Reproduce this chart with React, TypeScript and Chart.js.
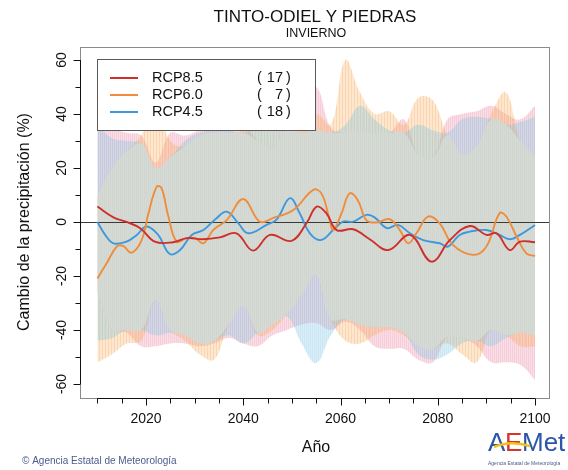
import { useEffect, useRef } from 'react';
import { Chart, registerables } from 'chart.js';

Chart.register(...registerables);

// ---------- data ----------
const chartTitle = 'TINTO-ODIEL Y PIEDRAS';
const chartSubtitle = 'INVIERNO';
const yAxisTitle = 'Cambio de la precipitación (%)';
const xAxisTitle = 'Año';
const footerText = 'Agencia Estatal de Meteorología';

const seriesNames = ['RCP8.5', 'RCP6.0', 'RCP4.5'];
const seriesCounts = [17, 7, 18];

const xTickLabels = [2020, 2040, 2060, 2080, 2100];
const yTickLabels = [-60, -40, -20, 0, 20, 40, 60];

const rcp85Years = [2010, 2013.3, 2016, 2018.8, 2021.8, 2025.6, 2028.4, 2031.7, 2035.2, 2038.6, 2042, 2045.5, 2049.9, 2053, 2055.1, 2057.1, 2059.2, 2062.6, 2066, 2069.8, 2074.3, 2078.7, 2082.5, 2086.6, 2090, 2092.1, 2094.8, 2096.9, 2100];
const rcp85Values = [5.7, 1.7, 0, -2.3, -7.3, -7.5, -6, -6.4, -5.7, -4.2, -10.6, -4.8, -7, -0.5, 5.7, 3.2, -3, -2.7, -6.4, -10.4, -4.8, -14.7, -6.7, -1.5, -4.8, -4.2, -10.4, -7.3, -7.5];

const rcp60Years = [2010, 2011.9, 2014, 2015.3, 2017, 2019.1, 2020.5, 2022.2, 2023.2, 2024.6, 2026.3, 2028.4, 2030.1, 2031.8, 2033.8, 2036.6, 2040, 2043.4, 2046.2, 2050.3, 2054.4, 2056.1, 2057.6, 2058.5, 2060.2, 2061.9, 2063.6, 2065.3, 2067.4, 2070.1, 2072.2, 2073.9, 2075.6, 2078, 2080.4, 2083.1, 2087.3, 2090, 2092.7, 2094.1, 2096.2, 2098.2, 2100];
const rcp60Values = [-20.9, -15.3, -9.1, -8.9, -11.4, -6.7, 3.2, 13.1, 12.5, 2, -7.3, -6, -6, -7.9, -3, 0.7, 8.5, 0.1, 1.5, 4.4, 11.9, 10.5, 2, -3, 3.2, 10.6, 7.9, 0.7, -0.2, 1, -3, -7.9, -4.2, 2, -0.5, -8.5, -12.2, -9.1, 3.2, 2, -5.4, -11.6, -12.6];

const rcp45Years = [2010, 2011.6, 2013.3, 2016, 2018.1, 2020.1, 2022.5, 2024.9, 2027, 2029.4, 2031.8, 2034.5, 2036.6, 2039, 2041, 2044.8, 2046.9, 2049.6, 2051.6, 2053.7, 2056, 2058.5, 2060.5, 2062.6, 2065.3, 2067, 2069.5, 2071.8, 2074.3, 2077, 2080.4, 2082.1, 2084.5, 2086.6, 2090, 2092.7, 2094.8, 2096.9, 2100];
const rcp45Values = [0, -4.8, -7.9, -7.3, -4.8, -1.7, -4.8, -11.9, -10.4, -4.8, -3, 1.4, 3.8, -0.5, -4.2, -1.1, 1, 8.8, 3.2, -4.2, -6.7, -3, 0.1, 0.1, 2.6, 1.7, -2.3, -1.1, -4.2, -6.7, -7.9, -9.1, -4.8, -3.6, -3, -4.8, -6.4, -4.8, -1.1];

// spread bands (common year grid)
const bandYears = [2010, 2013, 2016, 2019, 2022, 2025, 2028, 2031, 2034, 2037, 2040, 2043, 2046, 2049, 2052, 2055, 2058, 2061, 2064, 2067, 2070, 2073, 2076, 2079, 2082, 2085, 2088, 2091, 2094, 2097, 2100];
const rcp85Upper = [38, 35, 33, 32, 22, 33, 32, 34, 35, 35, 36, 30, 27, 35, 45, 50, 35, 33, 34, 33, 33, 38, 25, 24, 38, 40, 41, 43, 40, 38, 43];
const rcp85Lower = [-26, -40, -41, -46, -46, -45, -45, -46, -45, -43, -45, -46, -42, -40, -38, -37.5, -40, -37, -40, -46, -47, -47, -51, -52, -42.5, -43, -46, -52, -52, -53, -58.5];
const rcp60Upper = [10, 20, 26, 32, 42, 30, 28, 32, 33, 33, 34, 37, 38, 36, 35, 40, 36, 60, 48, 40, 41, 36, 46, 45, 32, 25, 28, 40, 48, 30, 24];
const rcp60Lower = [-52, -49, -45, -44, -29, -40, -44, -49, -51, -38, -31, -42, -40, -34, -27, -19.6, -36, -44, -45, -42, -40, -42, -46, -47, -45, -49, -52, -40, -42, -46, -46];
const rcp45Upper = [36, 31, 30, 29, 20, 24, 30, 33, 34, 34, 33, 36, 37, 34, 33, 34, 33, 36, 43, 38, 34, 33, 36, 34, 33, 38, 39, 38, 36, 37, 39];
const rcp45Lower = [-44, -43, -40, -40, -42, -41, -42, -45, -44, -42, -45, -41, -38, -35, -45, -52.3, -42, -36, -38, -39, -39, -41, -49, -51, -49, -45, -44, -46, -43, -41, -42];

// ---------- styles ----------
const lineColors = ['#cf2f2a', '#ef8d3c', '#3f98dc'];
const bandRgb: [number, number, number][] = [
  [235, 140, 165],
  [248, 172, 92],
  [130, 198, 225],
];
const bandAlpha = 0.36;
const overlapRgb: [number, number, number] = [211, 217, 210];
const FONT = '"Liberation Sans", Arial, Helvetica, sans-serif';

const pts = (xs: number[], ys: number[]) => xs.map((x, i) => ({ x, y: ys[i] }));

function hatch(rgb: [number, number, number], alpha: number, period: number, strong: number, weak: number) {
  const c = document.createElement('canvas');
  c.width = period;
  c.height = 1;
  const g = c.getContext('2d')!;
  g.fillStyle = `rgba(${rgb[0]},${rgb[1]},${rgb[2]},${Math.min(1, alpha * strong)})`;
  g.fillRect(0, 0, 1, 1);
  g.fillStyle = `rgba(${rgb[0]},${rgb[1]},${rgb[2]},${alpha * weak})`;
  g.fillRect(1, 0, period - 1, 1);
  return g.createPattern(c, 'repeat') as CanvasPattern;
}

export default function App() {
  const ref = useRef<HTMLCanvasElement>(null);

  useEffect(() => {
    const canvas = ref.current;
    if (!canvas) return;

    const overlapUpper = bandYears.map((_, i) => Math.min(rcp85Upper[i], rcp60Upper[i], rcp45Upper[i]));
    const overlapLower = bandYears.map((_, i) => Math.max(rcp85Lower[i], rcp60Lower[i], rcp45Lower[i]));

    const bandFills = [
      hatch(bandRgb[0], bandAlpha, 2, 1.2, 0.8),
      hatch(bandRgb[1], bandAlpha, 3, 1.4, 0.8),
      hatch(bandRgb[2], bandAlpha, 2, 1.15, 0.85),
    ];
    const overlapFill = (() => {
      const c = document.createElement('canvas');
      c.width = 2;
      c.height = 1;
      const g = c.getContext('2d')!;
      g.fillStyle = `rgb(${overlapRgb[0] - 2},${overlapRgb[1] - 2},${overlapRgb[2] - 2})`;
      g.fillRect(0, 0, 1, 1);
      g.fillStyle = `rgb(${overlapRgb[0] + 2},${overlapRgb[1] + 2},${overlapRgb[2] + 2})`;
      g.fillRect(1, 0, 1, 1);
      return g.createPattern(c, 'repeat') as CanvasPattern;
    })();

    const band = (ys: number[], fill: any, color: any) => ({
      data: pts(bandYears, ys),
      borderWidth: 0,
      borderColor: 'rgba(0,0,0,0)',
      backgroundColor: color,
      pointRadius: 0,
      tension: 0.4,
      fill,
    });
    const line = (xs: number[], ys: number[], color: string) => ({
      data: pts(xs, ys),
      borderColor: color,
      borderWidth: 1.9,
      pointRadius: 0,
      tension: 0.4,
      fill: false,
    });

    const decor = {
      id: 'decor',
      beforeDatasetsDraw(chart: any) {
        const { ctx, chartArea: a, scales } = chart;
        const y0 = Math.round(scales.y.getPixelForValue(0)) + 0.5;
        ctx.save();
        ctx.strokeStyle = '#3a3a3a';
        ctx.lineWidth = 1;
        ctx.beginPath();
        ctx.moveTo(a.left, y0);
        ctx.lineTo(a.right, y0);
        ctx.stroke();
        ctx.restore();
      },
      afterDraw(chart: any) {
        const { ctx, chartArea: a, scales } = chart;
        const xs = scales.x;
        const ys = scales.y;
        ctx.save();

        // frame
        ctx.strokeStyle = '#8a8a8a';
        ctx.lineWidth = 1;
        ctx.strokeRect(a.left + 0.5, a.top + 0.5, a.right - a.left - 1, a.bottom - a.top);

        // axes
        ctx.strokeStyle = '#111';
        const axX = Math.round(a.left) + 0.5;
        const axY = Math.round(a.bottom) + 0.5;
        ctx.beginPath();
        ctx.moveTo(axX, ys.getPixelForValue(60));
        ctx.lineTo(axX, ys.getPixelForValue(-60));
        ctx.moveTo(xs.getPixelForValue(2010), axY);
        ctx.lineTo(xs.getPixelForValue(2100), axY);
        for (let v = -60; v <= 60; v += 10) {
          const p = Math.round(ys.getPixelForValue(v)) + 0.5;
          const len = v % 20 === 0 ? 7 : 5;
          ctx.moveTo(axX, p);
          ctx.lineTo(axX - len, p);
        }
        for (let yr = 2010; yr <= 2100; yr += 5) {
          const p = Math.round(xs.getPixelForValue(yr)) + 0.5;
          const len = (yr - 2000) % 20 === 0 ? 7 : 5;
          ctx.moveTo(p, axY);
          ctx.lineTo(p, axY + len);
        }
        ctx.stroke();

        // tick labels
        ctx.fillStyle = '#111';
        ctx.font = `14px ${FONT}`;
        ctx.textAlign = 'center';
        ctx.textBaseline = 'middle';
        yTickLabels.forEach((v) => {
          ctx.save();
          ctx.translate(62, ys.getPixelForValue(v));
          ctx.rotate(-Math.PI / 2);
          ctx.fillText(String(v), 0, 0);
          ctx.restore();
        });
        xTickLabels.forEach((yr) => {
          ctx.fillText(String(yr), xs.getPixelForValue(yr), 419);
        });

        // axis titles
        ctx.font = `16px ${FONT}`;
        ctx.fillText(xAxisTitle, 316, 448);
        ctx.save();
        ctx.translate(25, 222);
        ctx.rotate(-Math.PI / 2);
        ctx.fillText(yAxisTitle, 0, 0);
        ctx.restore();

        // titles
        ctx.font = `17px ${FONT}`;
        ctx.fillText(chartTitle, 315, 17);
        ctx.font = `12.5px ${FONT}`;
        ctx.fillText(chartSubtitle, 316, 34);

        // legend
        ctx.fillStyle = '#fff';
        ctx.fillRect(97.5, 59.5, 218, 71);
        ctx.strokeStyle = '#5a5a5a';
        ctx.lineWidth = 1;
        ctx.strokeRect(97.5, 59.5, 218, 71);
        ctx.font = `14.5px ${FONT}`;
        seriesNames.forEach((name, i) => {
          const yy = 78 + i * 17;
          ctx.strokeStyle = lineColors[i];
          ctx.lineWidth = 2;
          ctx.beginPath();
          ctx.moveTo(110, yy);
          ctx.lineTo(138, yy);
          ctx.stroke();
          ctx.fillStyle = '#111';
          ctx.textAlign = 'left';
          ctx.fillText(name, 152, yy);
          ctx.fillText('(', 257, yy);
          ctx.fillText(')', 286, yy);
          ctx.textAlign = 'right';
          ctx.fillText(String(seriesCounts[i]), 283, yy);
        });

        // footer
        ctx.textAlign = 'left';
        ctx.fillStyle = '#4a5c8c';
        ctx.font = `10px ${FONT}`;
        ctx.fillText('© ' + footerText, 22, 461);

        // logo
        ctx.font = `26px ${FONT}`;
        ctx.fillStyle = '#2b55a8';
        ctx.fillText('A', 488, 444);
        ctx.fillStyle = '#d8352e';
        ctx.fillText('E', 505, 444);
        ctx.fillStyle = '#2b55a8';
        ctx.fillText('Met', 522, 444);
        ctx.strokeStyle = '#f2c316';
        ctx.lineWidth = 2.5;
        ctx.beginPath();
        ctx.moveTo(494, 447);
        ctx.quadraticCurveTo(510, 440, 530, 446);
        ctx.stroke();
        ctx.fillStyle = '#4a5c8c';
        ctx.font = `5px ${FONT}`;
        ctx.fillText(footerText, 488, 464);

        ctx.restore();
      },
    };

    const chart = new Chart(canvas, {
      type: 'line',
      data: {
        datasets: [
          line(rcp85Years, rcp85Values, lineColors[0]),
          line(rcp60Years, rcp60Values, lineColors[1]),
          line(rcp45Years, rcp45Values, lineColors[2]),
          band(overlapUpper, '+1', overlapFill),
          band(overlapLower, false, overlapFill),
          band(rcp45Upper, '+1', bandFills[2]),
          band(rcp45Lower, false, bandFills[2]),
          band(rcp60Upper, '+1', bandFills[1]),
          band(rcp60Lower, false, bandFills[1]),
          band(rcp85Upper, '+1', bandFills[0]),
          band(rcp85Lower, false, bandFills[0]),
        ] as any,
      },
      options: {
        responsive: false,
        animation: false,
        devicePixelRatio: 1,
        layout: { padding: { left: 80, right: 18, top: 47, bottom: 72 } },
        scales: {
          x: { type: 'linear', min: 2006.42, max: 2103.08, display: false },
          y: { type: 'linear', min: -65.2, max: 64.8, display: false },
        },
        plugins: {
          legend: { display: false },
          tooltip: { enabled: false },
          filler: { propagate: false, drawTime: 'beforeDatasetsDraw' },
        } as any,
      },
      plugins: [decor],
    });

    return () => chart.destroy();
  }, []);

  return (
    <div style={{ position: 'absolute', left: 0, top: 0, width: 568, height: 470, background: '#fff' }}>
      <canvas ref={ref} width={568} height={470} style={{ display: 'block' }} />
    </div>
  );
}
